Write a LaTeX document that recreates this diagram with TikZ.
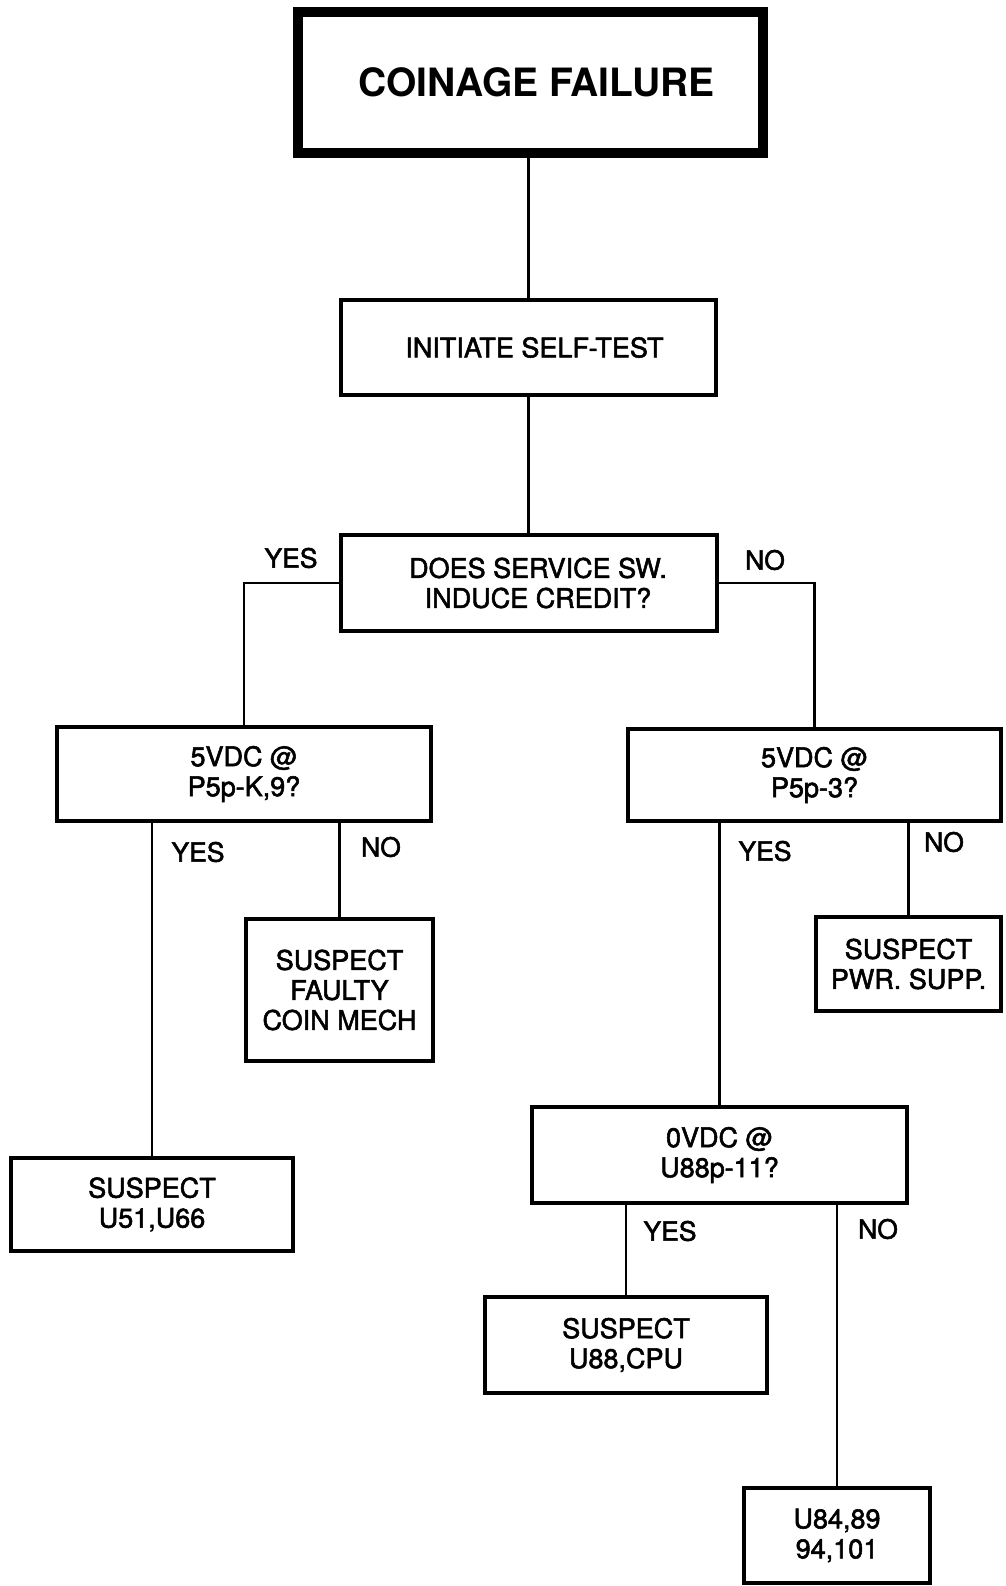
\documentclass[tikz,border=0pt]{standalone}
\usepackage{fontspec}
\setmainfont{TeX Gyre Heros}
\newfontfamily\medfont{TeX Gyre Heros}[FakeBold=2]
\begin{document}
\begin{tikzpicture}[x=1pt,y=-1pt,
  box/.style={draw,line width=4pt,rectangle,inner sep=0pt,align=center,
    font=\medfont\fontsize{27}{30}\selectfont},
  titlebox/.style={box,line width=10pt,font=\fontsize{39}{44}\selectfont\bfseries},
  conn/.style={line width=2.5pt},
  lbl/.style={inner sep=0pt,font=\medfont\fontsize{26.5}{30}\selectfont}]
\useasboundingbox (0,0) rectangle (1005,1586);

% boxes
\node[titlebox,minimum width=465pt,minimum height=141pt] (title) at (530.5,82.5) {\hspace*{12pt}COINAGE FAILURE};
\node[box,minimum width=375pt,minimum height=95pt] (self) at (528.5,347.5) {\hspace*{12pt}INITIATE SELF-TEST};
\node[box,minimum width=376pt,minimum height=96pt] (svc) at (529,583) {\hspace*{18pt}DOES SERVICE SW.\\\hspace*{18pt}INDUCE CREDIT?};
\node[box,minimum width=374pt,minimum height=94pt] (pk) at (244,774) {5VDC @\\P5p-K,9?};
\node[box,minimum width=373pt,minimum height=92pt] (pthree) at (814.5,775) {5VDC @\\P5p-3?};
\node[box,minimum width=187pt,minimum height=142pt] (coin) at (339.5,990) {SUSPECT\\FAULTY\\COIN MECH};
\node[box,minimum width=185pt,minimum height=94pt] (pwr) at (908.5,964) {SUSPECT\\PWR. SUPP.};
\node[box,minimum width=282pt,minimum height=93pt] (ufive) at (152,1204.5) {SUSPECT\\U51,U66};
\node[box,minimum width=375pt,minimum height=96pt] (zero) at (719.5,1155) {0VDC @\\U88p-11?};
\node[box,minimum width=282pt,minimum height=96pt] (cpu) at (626,1345) {SUSPECT\\U88,CPU};
\node[box,minimum width=186pt,minimum height=95pt] (ueight) at (837,1535.5) {U84,89\\94,101};

% connectors
\draw[conn] (title.south -| self.north) -- (self.north);
\draw[conn] (self.south) -- (self.south |- svc.north);
\draw[conn] (svc.west) -| (pk.north);
\draw[conn] (svc.east) -| (pthree.north);
\draw[conn] (ufive.north |- pk.south) -- (ufive.north);
\draw[conn] (coin.north |- pk.south) -- (coin.north);
\draw[conn] (zero.north |- pthree.south) -- (zero.north);
\draw[conn] (pwr.north |- pthree.south) -- (pwr.north);
\draw[conn] (cpu.north |- zero.south) -- (cpu.north);
\draw[conn] (ueight.north |- zero.south) -- (ueight.north);

% labels
\node[lbl] (yesa) at (291,558) {YES};
\node[lbl] (noa) at (765,560) {NO};
\node[lbl] (yesb) at (198,852) {YES};
\node[lbl] (nob) at (381,847) {NO};
\node[lbl] (yesc) at (765,851) {YES};
\node[lbl] (noc) at (944,842) {NO};
\node[lbl] (yesd) at (670,1231) {YES};
\node[lbl] (nod) at (878,1229) {NO};
\end{tikzpicture}
\end{document}
